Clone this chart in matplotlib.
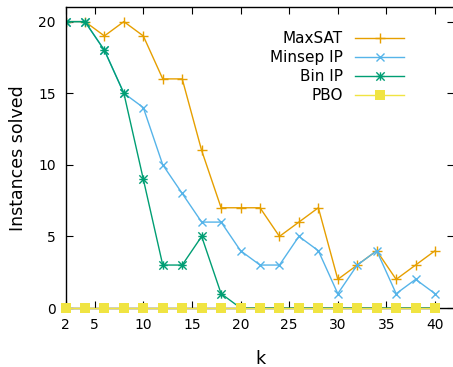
import matplotlib
matplotlib.use('Agg')
import matplotlib.pyplot as plt
from matplotlib.path import Path

k = [2, 4, 6, 8, 10, 12, 14, 16, 18, 20, 22, 24, 26, 28, 30, 32, 34, 36, 38, 40]
maxsat = [20, 20, 19, 20, 19, 16, 16, 11, 7, 7, 7, 5, 6, 7, 2, 3, 4, 2, 3, 4]
minsep_ip = [20, 20, 18, 15, 14, 10, 8, 6, 6, 4, 3, 3, 5, 4, 1, 3, 4, 1, 2, 1]
bin_ip = [20, 20, 18, 15, 9, 3, 3, 5, 1, 0, 0, 0, 0, 0, 0, 0, 0, 0, 0, 0]
pbo = [0] * 20

xticks = [2, 5, 10, 15, 20, 25, 30, 35, 40]
yticks = [0, 5, 10, 15, 20]

# gnuplot style asterisk: plus and cross on top of each other
star = Path([(-1, 0), (1, 0), (0, -1), (0, 1), (-1, -1), (1, 1), (-1, 1), (1, -1)],
            [Path.MOVETO, Path.LINETO] * 4)

fig = plt.figure(figsize=(4.53, 3.67), dpi=100)
ax = fig.add_axes([65.5 / 453, 59 / 367, 389 / 453, 300.7 / 367])

ax.plot(k, maxsat, color='#e69f00', lw=1, marker='+', ms=7, mew=1, label='MaxSAT')
ax.plot(k, minsep_ip, color='#56b4e9', lw=1, marker='x', ms=5.5, mew=1, label='Minsep IP')
ax.plot(k, bin_ip, color='#009e73', lw=1, marker=star, ms=6, mew=1, label='Bin IP')
ax.plot(k, pbo, color='#f0e442', lw=1, marker='s', ms=6.5, mew=0, label='PBO', clip_on=False, zorder=5)

ax.set_xlim(2, 42)
ax.set_ylim(0, 21)
ax.set_xticks(xticks)
ax.set_yticks(yticks)
ax.tick_params(direction='in', length=5, width=0.8, top=True, right=True, labelsize=10, pad=7)
for s in ax.spines.values():
    s.set_linewidth(1)

ax.set_xlabel('k', fontsize=12.5, labelpad=13)
ax.set_ylabel('Instances solved', fontsize=12.5, labelpad=8)

ax.legend(loc='upper right', bbox_to_anchor=(404 / 453, 1 - 31 / 367), bbox_transform=fig.transFigure,
          frameon=False, markerfirst=False, fontsize=11, handlelength=3.2, handletextpad=0.8,
          labelspacing=0.26, borderpad=0, borderaxespad=0)

fig.savefig('out.png', dpi=100)
